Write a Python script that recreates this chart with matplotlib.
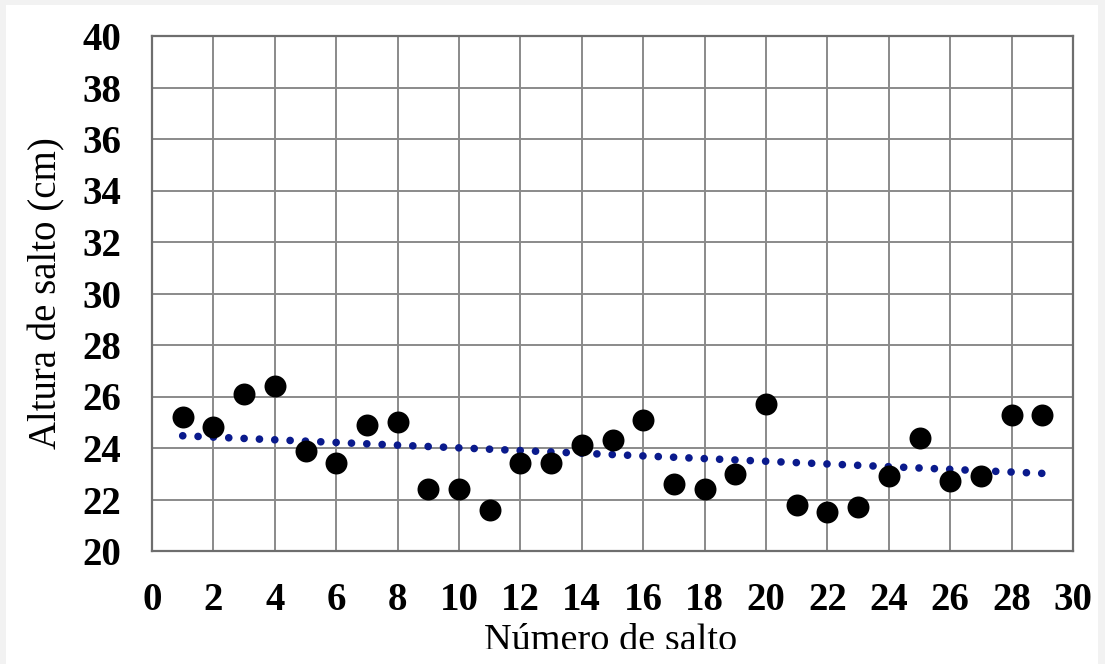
"""
Altura de salto vs número de salto, con línea de tendencia
"""

import numpy as np
from matplotlib import pyplot as plt
from matplotlib.patches import Rectangle
from matplotlib.transforms import Bbox

saltos = list(range(1, 30))
altura = [25.2, 24.8, 26.1, 26.4, 23.9, 23.4, 24.9, 25.0, 22.4, 22.4,
          21.6, 23.4, 23.4, 24.1, 24.3, 25.1, 22.6, 22.4, 23.0, 25.7,
          21.8, 21.5, 21.7, 22.9, 24.4, 22.7, 22.9, 25.3, 25.3]
xticks = list(range(0, 31, 2))
yticks = list(range(20, 41, 2))

W, H = 1105, 664


def main():
    fig = plt.figure(figsize=(W / 100, H / 100), dpi=100, facecolor='#f2f2f2')
    fig.patches.append(Rectangle((6 / W, 0), (1098 - 6) / W, (H - 5) / H,
                                 transform=fig.transFigure, facecolor='white',
                                 edgecolor='none', zorder=0))
    ax = fig.add_axes([152 / W, 1 - 551 / H, (1073 - 152) / W, (551 - 36) / H])
    ax.set_zorder(2)

    # linea de tendencia (ajuste lineal)
    m, b = np.polyfit(saltos, altura, 1)
    xs = np.array([saltos[0], saltos[-1]])
    ax.plot(xs, m * xs + b, color='#0a1a8c', lw=5.5, ls=(0, (0.01, 2.0)),
            dash_capstyle='round', zorder=3)
    ax.scatter(saltos, altura, s=250, color='black', zorder=4, lw=0)

    ax.set_xlim(0, 30)
    ax.set_ylim(20, 40)
    ax.set_xticks(xticks)
    ax.set_yticks(yticks)
    ax.grid(color='#8a8a8a', lw=1.4)
    ax.set_axisbelow(True)
    for s in ax.spines.values():
        s.set_color('#6e6e6e')
        s.set_linewidth(1.6)

    tf = dict(family='Liberation Serif', weight='bold', size=28)
    ax.tick_params(length=0, pad=22)
    ax.set_xticklabels([str(t) for t in xticks], **tf)
    ax.set_yticklabels([str(t) for t in yticks], **tf)

    ax.set_ylabel('Altura de salto (cm)', family='Liberation Serif', size=28, labelpad=12)
    # la etiqueta del eje x queda cortada por abajo, como en el original
    t = fig.text(611 / W, 1 - 650 / H, 'Número de salto', family='Liberation Serif',
                 size=27.5, ha='center', va='baseline')
    t.set_clip_box(Bbox([[0, H - 649], [W, H]]))
    t.set_clip_on(True)

    plt.savefig('out.png', dpi=100, facecolor=fig.get_facecolor())


if __name__ == '__main__':
    main()
